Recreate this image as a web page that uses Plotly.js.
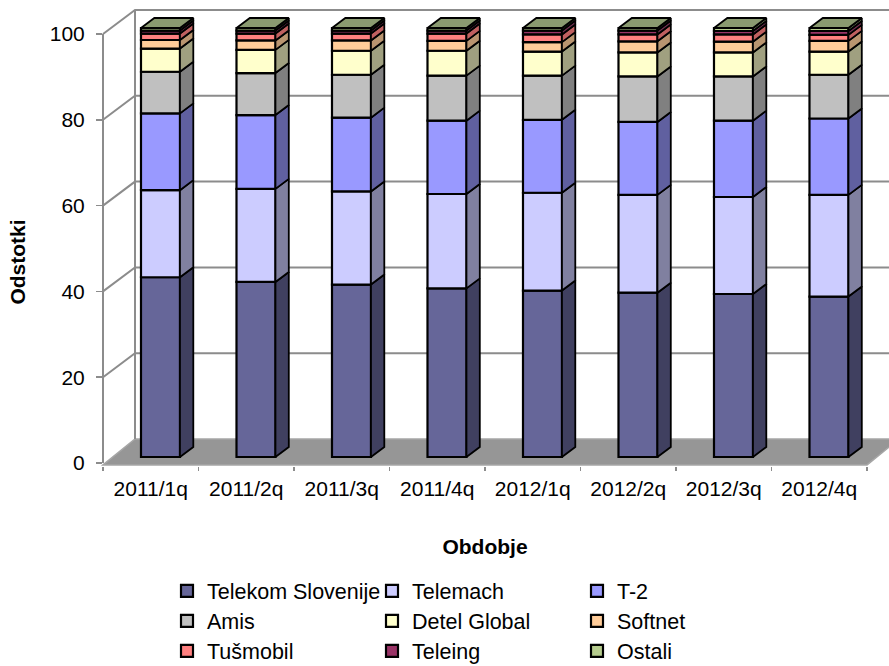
<!DOCTYPE html>
<html><head><meta charset="utf-8">
<script src="https://cdn.plot.ly/plotly-3.0.1.min.js"></script>
<style>html,body{margin:0;padding:0;background:#fff}</style></head>
<body><div id="chart" style="width:889px;height:666px"></div>
<script>
const categories = ['2011/1q','2011/2q','2011/3q','2011/4q','2012/1q','2012/2q','2012/3q','2012/4q'];
const telekom  = [41.9,40.8,40.2,39.3,38.8,38.3,38.0,37.4];
const telemach = [20.3,21.7,21.7,22.0,22.8,22.8,22.6,23.7];
const t2       = [17.9,17.2,17.2,17.1,17.0,17.0,17.8,17.8];
const amis     = [9.7,9.8,10.0,10.5,10.3,10.6,10.3,10.2];
const detel    = [5.4,5.4,5.6,5.8,5.6,5.6,5.6,5.4];
const softnet  = [2.0,2.2,2.4,2.3,2.2,2.6,2.5,2.5];
const tusmobil = [1.5,1.6,1.6,1.7,1.8,1.6,1.7,1.4];
const teleing  = [0.7,0.7,0.7,0.7,0.9,0.9,0.8,0.9];
const ostali   = [0.6,0.6,0.6,0.6,0.6,0.6,0.7,0.7];
const seriesNames = ['Telekom Slovenije','Telemach','T-2','Amis','Detel Global','Softnet','Tušmobil','Teleing','Ostali'];
const seriesValues = [telekom,telemach,t2,amis,detel,softnet,tusmobil,teleing,ostali];
const frontColors = ['#666699','#CCCCFF','#9999FF','#C0C0C0','#FFFFCC','#FFCC99','#FF8080','#993366','#B6CC8E'];
const sideColors  = ['#404060','#8080A0','#6060A0','#808080','#A0A080','#B99570','#C06060','#703050','#8A9A6E'];
const topColor = '#8A9A70';
const yTicks = [0,20,40,60,80,100];

// geometry of the oblique projection, in axis units
const DX = 32/95.5, DY = 24/4.29, D0 = 0.25, D1 = 0.667, BAR_W = 0.408, CENTER = 0.518;
const px = (x,d)=> x + d*DX;
const py = (v,d)=> v + d*DY;
const wallColor = '#8C8C8C';
const n = categories.length;
const plotTop = 15, plotBottom = 466, titleMid = 262;
const yMin = -0.7, yMax = (plotBottom-plotTop)/4.29 - 0.7;
const fx = x => x/n;
const fy = v => (v-yMin)/(yMax-yMin);
const linePath = pts => pts.map((p,i)=>(i?'L':'M')+fx(p[0])+','+fy(p[1])).join(' ');
const traces = [];
const shapes = [];

// floor
shapes.push({type:'path',xref:'paper',yref:'paper',layer:'below',fillcolor:'#969696',line:{color:'#A6A6A6',width:1.5},
  path:linePath([[px(0,0),py(-0.45,0)],[px(0,1),py(0,1)],[px(n,1),py(0,1)],[px(n,0),py(-0.45,0)]])+' Z'});
// walls and grid
yTicks.forEach(t=>{ if(t>0) shapes.push({type:'path',xref:'paper',yref:'paper',layer:'below',line:{color:wallColor,width:2},
  path:linePath([[px(0,0),py(t,0)],[px(0,1),py(t,1)],[px(n,1),py(t,1)]])}); });
[0,1].forEach(d=>shapes.push({type:'path',xref:'paper',yref:'paper',layer:'below',line:{color:wallColor,width:2},
  path:linePath([[px(0,d),py(0,d)],[px(0,d),py(100,d)]])}));

// front faces
const cum = categories.map(()=>0);
const legendOf = i => i<3?'legend':(i<6?'legend2':'legend3');
const centers = categories.map((c,i)=>i+CENTER);
seriesNames.forEach((name,s)=>{
  const vals = seriesValues[s];
  const base = vals.map((v,i)=>cum[i]);
  traces.push({type:'bar',name:name,legend:legendOf(s),x:centers.map(c=>px(c,D0)),y:vals,base:base.map(b=>py(b,D0)),width:BAR_W,
    marker:{color:frontColors[s],line:{color:'#000',width:2.2}},cliponaxis:false,hoverinfo:'skip'});
  // side faces
  let sx=[],sy=[];
  vals.forEach((v,i)=>{
    const r = centers[i]+BAR_W/2, b=base[i], t=b+v;
    sx.push(px(r,D0),px(r,D1),px(r,D1),px(r,D0),px(r,D0),null);
    sy.push(py(b,D0),py(b,D1),py(t,D1),py(t,D0),py(b,D0),null);
    cum[i]=t;
  });
  traces.push({type:'scatter',mode:'lines',fill:'toself',fillcolor:sideColors[s],line:{color:'#000',width:1.8},x:sx,y:sy,cliponaxis:false,showlegend:false,hoverinfo:'skip'});
});
// top faces
let tx=[],ty=[];
centers.forEach((c,i)=>{
  const l=c-BAR_W/2,r=c+BAR_W/2,t=cum[i];
  tx.push(px(l,D0),px(r,D0),px(r,D1),px(l,D1),px(l,D0),null);
  ty.push(py(t,D0),py(t,D0),py(t,D1),py(t,D1),py(t,D0),null);
});
traces.push({type:'scatter',mode:'lines',fill:'toself',fillcolor:topColor,line:{color:'#000',width:1.8},x:tx,y:ty,cliponaxis:false,showlegend:false,hoverinfo:'skip'});
// empty trace that brings up the axis carrying the y title
traces.push({type:'scatter',mode:'lines',x:[null],y:[null],yaxis:'y2',showlegend:false,hoverinfo:'skip'});

const font = {family:'"Liberation Sans",Arial,sans-serif',color:'#000'};
const legendBase = (yp)=>({orientation:'h',x:(167-103)/764,xanchor:'left',y:(plotBottom-yp)/(plotBottom-plotTop),yanchor:'middle',
  entrywidth:160,entrywidthmode:'pixels',bgcolor:'rgba(0,0,0,0)',borderwidth:0,font:{...font,size:21.5},traceorder:'normal',itemclick:false,itemdoubleclick:false});

const layout = {
  width:889,height:666,autosize:false,paper_bgcolor:'#fff',plot_bgcolor:'rgba(0,0,0,0)',
  margin:{l:103,r:22,t:plotTop,b:666-plotBottom,pad:0,autoexpand:false},barmode:'overlay',
  font:{...font,size:21},shapes:shapes,
  xaxis:{range:[0,n],tickmode:'array',tickvals:categories.map((c,i)=>i+0.5),ticktext:categories,ticks:'',showgrid:false,zeroline:false,showline:false,
    tickfont:{...font,size:21},ticklabelstandoff:8,tickangle:0,
    minor:{tickmode:'array',tickvals:Array.from({length:n+1},(_,i)=>i),ticks:'outside',ticklen:4,tickwidth:1.5,tickcolor:wallColor,showgrid:false},
    title:{text:'Obdobje',font:{...font,size:21,weight:'bold'},standoff:40}},
  yaxis:{range:[yMin,yMax],tickmode:'array',tickvals:yTicks,ticks:'outside',ticklen:6,tickwidth:1.5,tickcolor:wallColor,showgrid:false,zeroline:false,showline:false,
    tickfont:{...font,size:21},ticklabelstandoff:7},
  yaxis2:{anchor:'x',domain:[0,2*(plotBottom-titleMid)/(plotBottom-plotTop)],range:[0,1],showticklabels:false,ticks:'',showgrid:false,zeroline:false,showline:false,
    title:{text:'Odstotki',font:{...font,size:21,weight:'bold'},standoff:70}},
  legend:legendBase(591),legend2:legendBase(621),legend3:legendBase(651),
  hovermode:false,showlegend:true
};
Plotly.newPlot('chart',traces,layout,{displayModeBar:false,staticPlot:true});
</script></body></html>
